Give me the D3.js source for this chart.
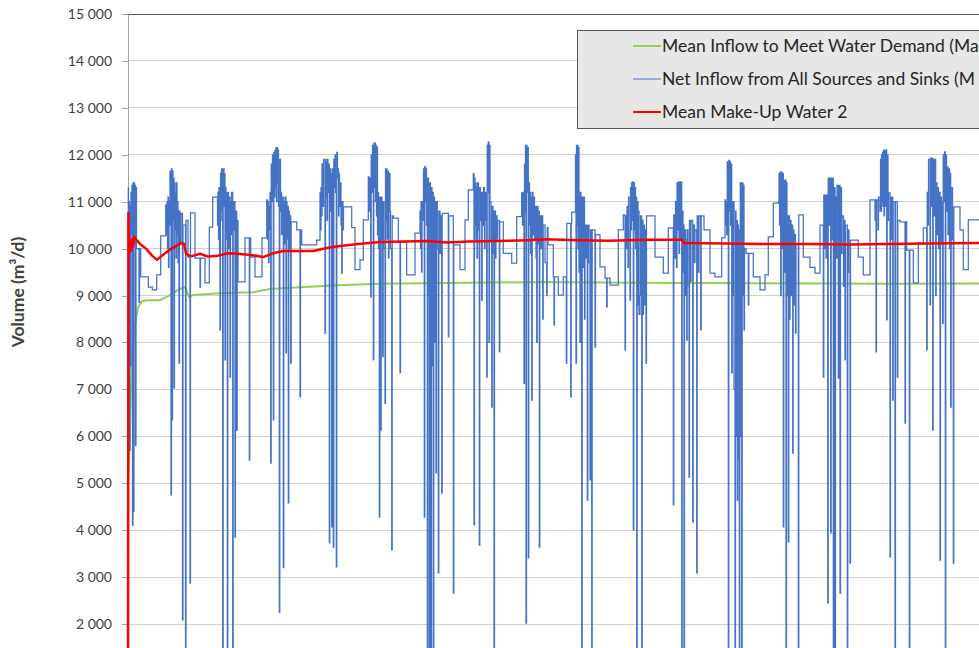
<!DOCTYPE html>
<html>
<head>
<meta charset="utf-8">
<script src="https://cdn.jsdelivr.net/npm/d3@7"></script>
<style>
  body { margin: 0; background: #fff; }
  svg text { font-family: Lato, "Open Sans", sans-serif; }
</style>
</head>
<body>
<svg id="chart" width="979" height="648"></svg>
<script>
// y axis ticks (m3/d)
const yTickValues = [2000, 3000, 4000, 5000, 6000, 7000, 8000, 9000, 10000, 11000, 12000, 13000, 14000, 15000];

const seriesNames = [
    "Mean Inflow to Meet Water Demand (Ma",
    "Net Inflow from All Sources and Sinks (M",
    "Mean Make-Up Water 2"
];
const seriesColors = ["#92d050", "#4472c4", "#ff0000"];

// [time step, volume]
const meanInflow = [
    [0, 4960], [1.5, 5710], [3, 7000], [5, 8000], [8, 8520], [10, 8750], [14, 8880], [19, 8900],
    [32, 8900], [42, 9010], [52, 9140], [57, 9180], [59, 9080], [61, 8970], [65, 9010], [92, 9050],
    [125, 9070], [142, 9140], [159, 9160], [209, 9220], [252, 9250], [340, 9270], [419, 9290],
    [500, 9270], [632, 9260], [760, 9250], [870, 9255]
];

const makeUpWater = [
    [0, 0], [0.4, 10760], [1, 9900], [2, 10150], [3, 9950], [4, 10200], [5, 10050], [6, 10250],
    [8, 10200], [12, 10100], [18, 10000], [24, 9850], [29, 9760], [34, 9850], [42, 9980], [50, 10080],
    [53, 10120], [56, 10100], [58, 9900], [60, 9860], [64, 9840], [72, 9890], [80, 9830], [90, 9850],
    [100, 9900], [110, 9890], [125, 9860], [135, 9820], [145, 9900], [155, 9950], [170, 9950],
    [185, 9950], [200, 10020], [210, 10050], [230, 10100], [252, 10140], [275, 10150], [299, 10160],
    [319, 10130], [340, 10150], [369, 10160], [400, 10180], [419, 10200], [450, 10180], [480, 10170],
    [520, 10190], [554, 10190], [556, 10120], [600, 10110], [632, 10100], [680, 10100], [720, 10090],
    [760, 10100], [800, 10110], [870, 10120]
];

const netInflow = [
    [0, 7500], [0.3, 11300], [0.5, 9800], [1, 11000], [1.5, 5700], [2, 10900], [2.5, 7500], [3, 11200],
    [3.5, 10300], [4, 11350], [4.5, 4100], [5, 11400], [5.5, 4400], [6, 11400], [6.5, 10100], [7, 11350],
    [7.5, 5800], [8, 11300], [8.5, 10000], [11, 8850], [11.5, 10000], [12.7, 9400], [20.3, 9180],
    [24.3, 9120], [28.7, 9440], [32.7, 10270], [37.7, 10930],
    [38.5, 10300], [39, 11000], [39.5, 10000], [40, 11100], [40.5, 9600], [41, 11000], [41.5, 10500],
    [42, 11650], [42.5, 10500], [43, 4750], [43.5, 11700], [44, 6350], [44.5, 11650], [45, 10600],
    [45.5, 11500], [46, 7030], [46.5, 11400], [47, 10400], [47.5, 11200], [48, 9800], [48.5, 11400],
    [49, 10300], [49.5, 11000], [50, 9700], [50.5, 10800], [51, 7560], [51.5, 10800], [52, 10100],
    [53, 10750], [54.5, 2090], [55, 10500], [57.5, 500], [58, 10600], [60, 9820], [62, 2870],
    [62.5, 10760], [67, 9800], [72, 9180], [72.5, 9800], [77, 9270], [81.3, 10460], [84.7, 11100],
    [89.5, 10500], [90, 11200], [90.5, 10200], [91, 11300], [91.5, 9900], [92, 8270], [92.5, 11600],
    [93, 10800], [93.5, 11700], [94, 10600], [94.7, 200], [95.2, 11700], [96, 10900], [96.5, 11600],
    [97, 7630], [97.5, 11300], [98, 10200], [98.5, 11200], [99.3, 300], [99.8, 11200], [100.5, 10000],
    [101, 11100], [102, 7260], [102.5, 11000], [103, 10300], [103.5, 11200], [104.7, 200], [105.2, 11000],
    [106, 10400], [106.5, 11000], [107, 3850], [107.5, 10800], [108.7, 6130], [109.2, 10600],
    [110, 9290], [117, 10230], [121.3, 5490], [121.8, 10230], [122.7, 9820], [127, 9400], [134, 10230],
    [138.7, 11040],
    [139.5, 10200], [140, 11000], [140.5, 9700], [141, 10900], [141.5, 10400], [142, 11200], [142.7, 5430],
    [143.2, 11800], [144, 11000], [144.5, 12000], [145.3, 6350], [145.8, 12050], [146.5, 11100],
    [147, 12100], [147.5, 11300], [148, 12150], [148.5, 11000], [149, 12150], [149.5, 11400], [150, 12100],
    [150.5, 10900], [151.3, 2250], [151.8, 11900], [152.5, 10800], [153, 11200], [153.5, 10300],
    [154, 11100], [155.3, 3200], [155.8, 11000], [156.5, 10100], [157, 11100], [158, 7780], [158.5, 11000],
    [159, 10200], [159.5, 10900], [160.3, 4580], [160.8, 10800], [161.5, 10000], [162, 10700],
    [162.7, 7560], [163.2, 10570], [168.7, 10400], [172, 6840], [172.5, 10400], [173.7, 10080],
    [188.7, 10180], [192, 11190],
    [192.5, 10400], [193, 11300], [193.5, 10700], [194, 11800], [195, 10900], [195.5, 11900], [196, 11000],
    [197, 8200], [197.5, 11900], [198, 11100], [198.5, 11850], [199, 10600], [199.5, 11900], [200, 11200],
    [200.5, 11800], [201.3, 3730], [201.8, 11700], [202.5, 10800], [203, 11600], [203.7, 4070],
    [204.2, 11700], [205.3, 3640], [205.8, 11900], [206.5, 11300], [207, 12000], [207.5, 11200],
    [208.3, 3215], [208.8, 12050], [209.5, 11500], [210, 11700], [210.5, 10700], [211, 11600],
    [211.5, 10900], [212, 11400], [213, 10500], [213.7, 9480], [214.2, 11000], [215, 10400],
    [215.5, 10890], [223.7, 10450], [227, 9550], [232, 9760], [235.3, 10610], [240.3, 11530],
    [241, 10800], [241.5, 11500], [242.7, 8970], [243.2, 12000], [244, 11200], [244.5, 12200],
    [245.3, 7630], [245.8, 12250], [246.5, 11300], [247, 12250], [247.5, 11000], [248, 12200],
    [248.5, 10700], [249, 12150], [249.5, 10300], [250, 11200], [250.5, 10000], [251.3, 4280],
    [251.8, 11100], [252.7, 6130], [253.2, 11100], [254, 10200], [254.7, 7700], [255.2, 11000],
    [256, 10000], [257, 6700], [257.5, 11700], [258, 10600], [258.5, 11700], [259, 10200], [259.5, 11650],
    [260.5, 9800], [261, 11600], [262, 10800], [262.5, 10000], [263.7, 3580], [264.2, 10700],
    [265.3, 10650], [270.3, 10140], [272, 7350], [272.5, 10140], [278.7, 9440], [287, 10330], [292, 10800],
    [292.5, 10000], [293, 11000], [293.5, 9500], [294, 11000], [295, 10600], [295.5, 11700], [296.3, 4280],
    [296.8, 11750], [297.5, 11000], [298, 11700], [298.5, 10500], [299.3, 400], [299.8, 11500],
    [300.5, 9000], [301.3, 300], [301.8, 11400], [302.5, 6000], [303, 200], [303.5, 11300], [304, 7500],
    [304.5, 11200], [305.3, 300], [305.8, 11100], [306.5, 8000], [307, 11000], [308, 5220], [308.5, 11000],
    [309.3, 10000], [310.3, 3090], [310.8, 10800], [312, 9900], [312.5, 10700], [313.7, 4790],
    [314.2, 10750], [320.3, 8120], [320.8, 10700], [325.3, 2660], [325.8, 10080], [332, 9550],
    [337, 10610], [340.3, 11250],
    [345.3, 11600], [346, 4110], [346.5, 11500], [347, 10500], [347.5, 11400], [348, 10200], [348.5, 11300],
    [349, 9800], [349.5, 11400], [350.5, 10400], [351.3, 3680], [351.8, 11300], [352.5, 10600],
    [353, 11200], [353.7, 8900], [354.2, 11200], [355, 10500], [355.5, 11300], [356.5, 10000],
    [357, 11200], [358, 10600], [358.7, 7260], [359.2, 12200], [359.7, 11200], [360.2, 12270], [361, 8000],
    [361.5, 12200], [362, 11000], [363, 10200], [363.7, 6620], [364.2, 10900], [365, 9900], [365.5, 10800],
    [366, 400], [366.5, 10800], [367.5, 9800], [368, 10700], [369, 10200], [369.5, 10600], [371.3, 7800],
    [371.8, 10570], [375.3, 9900], [383.7, 9690], [388.7, 10680], [393.7, 11190],
    [394.5, 10500], [395, 11200], [396, 7130], [396.5, 11800], [397, 10800], [397.5, 12200], [398, 2020],
    [398.5, 12200], [399, 11200], [399.5, 12150], [400.3, 3410], [400.8, 11400], [401.5, 10500],
    [402, 11200], [402.5, 9900], [403, 11100], [403.7, 6770], [404.2, 11200], [405, 10300], [405.5, 11100],
    [406.5, 10200], [407, 10900], [408, 9800], [408.7, 8000], [409.2, 10900], [410, 10100], [410.5, 10800],
    [411.3, 3640], [411.8, 10700], [413, 10000], [413.5, 10700], [414.7, 8500], [415.2, 10500],
    [417, 9700], [418.7, 9000], [419.2, 10450], [420, 10080], [425.3, 9400], [426, 8370], [426.5, 9400],
    [430.3, 9010], [435.3, 9400], [438.3, 7560], [438.8, 10540], [442.7, 6840], [443.2, 10540],
    [443.7, 10780],
    [447.5, 12000], [448, 7560], [448.5, 12200], [449, 10500], [449.5, 12200], [450, 10000], [450.5, 12150],
    [451, 9500], [451.5, 11200], [452, 8000], [452.5, 11200], [453, 8600], [453.7, 300], [454.2, 11100],
    [455.3, 9600], [455.8, 11100], [456.5, 8500], [457, 10500], [458, 9800], [458.5, 10500], [459.3, 4640],
    [459.8, 10500], [461, 9700], [462, 5070], [462.5, 10400], [463.7, 200], [464.2, 10400], [467, 7900],
    [467.5, 10300], [472, 9610], [477, 9370], [478.7, 8760], [479.2, 9370], [482, 9220], [490.3, 10400],
    [495.3, 10720],
    [497, 7840], [497.5, 10700], [498.5, 10000], [499, 10900], [500, 9600], [500.5, 11100], [501, 10200],
    [502, 8900], [502.5, 11300], [503, 10400], [503.5, 11400], [504, 10600], [504.5, 11420], [505.3, 4000],
    [505.8, 11400], [506.5, 10400], [507, 11300], [507.5, 10000], [508, 11100], [508.7, 200],
    [509.2, 11000], [510, 8800], [510.5, 10800], [511, 8600], [512, 9000], [512.5, 10700], [513.7, 200],
    [514.2, 10600], [515, 8600], [515.5, 10500], [516.5, 8800], [517, 10400], [518, 7560], [518.5, 10700],
    [527, 9820], [535.3, 9480], [540.3, 10440], [545.3, 4540], [545.8, 10720],
    [547, 9800], [547.5, 11000], [548.5, 9600], [549, 11400], [550, 10400], [550.5, 11420], [551, 9900],
    [551.5, 11400], [552, 10200], [552.5, 11420], [553.7, 200], [554.2, 10800], [555, 9500], [555.5, 10500],
    [556, 300], [556.5, 10400], [557.5, 9000], [558, 10200], [558.7, 8050], [559.2, 10400], [560, 9200],
    [561, 5130], [561.5, 10600], [562.5, 9300], [563, 10600], [564.7, 4170], [565.2, 10500], [566.5, 9700],
    [567, 10400], [568.7, 3090], [569.2, 10700], [570, 9500], [571, 10700], [572.7, 8270], [573.2, 10700],
    [576, 10400], [582, 9480], [587, 9400], [593.7, 10230], [597, 11040],
    [597.5, 10500], [598, 11000], [598.7, 10300], [599.2, 11850], [600.3, 200], [600.8, 11880],
    [601.5, 10800], [602, 11850], [602.5, 10500], [603, 11800], [603.7, 7350], [604.2, 11000], [605, 9000],
    [605.5, 11000], [606, 7000], [607, 200], [607.5, 10800], [608, 6000], [608.5, 10600], [609.3, 4640],
    [609.8, 10500], [610.5, 5500], [611.3, 200], [611.8, 10400], [612.3, 11400], [613, 6000], [613.7, 200],
    [614.2, 11400], [615, 9000], [615.5, 11350], [616, 8270], [616.5, 10000], [618, 9900], [620.3, 8800],
    [620.8, 9900], [625.3, 9400], [632, 9120], [637, 9440], [640.3, 10250], [645.3, 10970],
    [650.3, 11000], [651, 11600], [651.5, 10500], [652, 11630], [652.7, 9000], [653.2, 11630], [654, 10000],
    [654.5, 11600], [655.3, 4070], [655.8, 11460], [656.5, 9500], [657, 11460], [658, 200], [658.5, 11400],
    [659, 9000], [659.5, 10700], [660.3, 3750], [660.8, 10700], [661.5, 8500], [662, 10600], [663, 9000],
    [663.5, 10500], [664.7, 5640], [665.2, 10400], [666, 8800], [666.5, 10300], [667.5, 8200], [668, 10100],
    [670.3, 200], [670.8, 10720], [675.3, 9820], [682, 9600], [687, 9480], [692, 10500],
    [695.3, 7260], [695.8, 11140], [696.5, 10000], [697, 11140], [698, 9800], [698.5, 11140], [699.7, 2450],
    [700.2, 11500], [701, 10500], [701.5, 11500], [702.7, 3940], [703.2, 11500], [704, 10200],
    [704.5, 11500], [705.3, 200], [705.8, 11300], [707, 300], [707.5, 11100], [708.5, 9800], [709, 11350],
    [710.3, 7240], [710.8, 11350], [712, 2660], [712.5, 11300], [713.5, 9900], [714, 10700], [715.5, 9200],
    [716, 10600], [717, 7630], [717.5, 10500], [719.3, 200], [719.8, 10400], [721, 9500], [722, 3300],
    [722.5, 10180], [730.3, 9820], [735.3, 9440], [742, 11040],
    [747, 10600], [747.5, 11040], [748, 7800], [748.5, 11040], [750, 10400], [750.5, 11100], [752, 10800],
    [752.5, 11900], [753, 10800], [753.5, 12000], [754, 11000], [754.5, 12050], [755, 10900], [755.5, 12100],
    [756, 10700], [756.5, 12100], [757, 10900], [757.5, 12100], [758.7, 8480], [759.2, 12000], [760, 10600],
    [760.5, 11190], [762, 3430], [762.5, 11100], [763.5, 10200], [764, 11100], [764.7, 6770],
    [765.2, 11000], [767, 200], [767.5, 11000], [769.3, 7260], [769.8, 10600], [772, 10570], [777, 6280],
    [777.5, 10570], [778.7, 9970], [781.3, 200], [781.8, 9970], [785.3, 9270], [790.3, 10120],
    [795.3, 10440], [798.7, 7840],
    [799.2, 11200], [800, 10500], [800.5, 11900], [801, 10800], [802, 8800], [802.5, 11930], [803, 10900],
    [803.5, 11930], [804.7, 6130], [805.2, 11900], [806, 10700], [806.5, 11900], [807.7, 9000],
    [808.2, 11400], [809, 10300], [809.5, 11300], [810.5, 10000], [811, 11200], [812, 3360], [812.5, 11100],
    [813.5, 10100], [814, 11000], [814.7, 8400], [815.2, 12000], [816, 11000], [816.5, 12060], [817.3, 200],
    [817.8, 12000], [818.5, 10800], [819, 11740], [820, 10300], [820.5, 11700], [821.5, 10000],
    [822, 11600], [822.7, 6620], [823.2, 11300], [824.5, 10200], [825.3, 3300], [825.8, 10890],
    [832, 10400], [835.3, 9550], [840.3, 10610], [870, 10600]
];

const svg = d3.select("#chart");

const x = d3.scaleLinear().domain([0, 851]).range([128, 979]);
const y = d3.scaleLinear().domain([0, 15000]).range([717.85, 14]);

const fmt = d3.formatLocale({ decimal: ".", thousands: " ", grouping: [3], currency: ["", ""] }).format(",d");

// gridlines
svg.append("g").attr("class", "grid")
    .selectAll("line")
    .data(yTickValues)
    .enter().append("line")
    .attr("x1", 128).attr("x2", 979)
    .attr("y1", d => y(d)).attr("y2", d => y(d))
    .attr("stroke", d => d === 15000 ? "#595959" : "#d0d0d0")
    .attr("stroke-width", 1)
    .attr("shape-rendering", "crispEdges");

// y axis
const yAxis = svg.append("g")
    .attr("transform", "translate(128,0)")
    .call(d3.axisLeft(y).tickValues(yTickValues).tickSize(6).tickSizeOuter(0).tickPadding(10).tickFormat(fmt));
yAxis.select(".domain").attr("stroke", "#a6a6a6");
yAxis.selectAll(".tick line").attr("stroke", "#a6a6a6").attr("shape-rendering", "crispEdges");
yAxis.selectAll(".tick text")
    .attr("fill", "#404040")
    .style("font-size", "14px")
    .style("font-family", "Lato, 'Open Sans', sans-serif");

svg.append("text")
    .attr("transform", "translate(24,292) rotate(-90)")
    .attr("text-anchor", "middle")
    .attr("fill", "#404040")
    .style("font-size", "17.5px")
    .style("font-weight", "bold")
    .text("Volume (m³/d)");

// series
svg.append("clipPath").attr("id", "plotClip")
    .append("rect").attr("x", 126).attr("y", 0).attr("width", 900).attr("height", 720);

const plotArea = svg.append("g").attr("clip-path", "url(#plotClip)");

const lineLinear = d3.line().x(d => x(d[0])).y(d => y(d[1]));
const lineStep = d3.line().x(d => x(d[0])).y(d => y(d[1])).curve(d3.curveStepAfter);

plotArea.append("path")
    .datum(meanInflow)
    .attr("d", lineLinear)
    .attr("fill", "none")
    .attr("stroke", seriesColors[0])
    .attr("stroke-width", 2);

plotArea.append("path")
    .datum(netInflow)
    .attr("d", lineStep)
    .attr("fill", "none")
    .attr("stroke", seriesColors[1])
    .attr("stroke-width", 1.25);

plotArea.append("path")
    .datum(makeUpWater)
    .attr("d", lineLinear)
    .attr("fill", "none")
    .attr("stroke", seriesColors[2])
    .attr("stroke-width", 2.5)
    .attr("stroke-linejoin", "round");

// legend
const legend = svg.append("g").attr("class", "legend");
legend.append("rect")
    .attr("x", 577.5).attr("y", 30.5)
    .attr("width", 500).attr("height", 98)
    .attr("fill", "#e7e7e7")
    .attr("stroke", "#595959");

const rows = legend.selectAll(".row")
    .data(seriesNames)
    .enter().append("g")
    .attr("class", "row")
    .attr("transform", (d, i) => "translate(0," + (46 + i * 33) + ")");

rows.append("line")
    .attr("x1", 633).attr("x2", 661)
    .attr("stroke", (d, i) => seriesColors[i])
    .attr("stroke-width", (d, i) => i === 1 ? 1 : 2);

rows.append("text")
    .attr("x", 662)
    .attr("dy", "0.36em")
    .attr("fill", "#262626")
    .style("font-size", "17.5px")
    .text(d => d);
</script>
</body>
</html>
